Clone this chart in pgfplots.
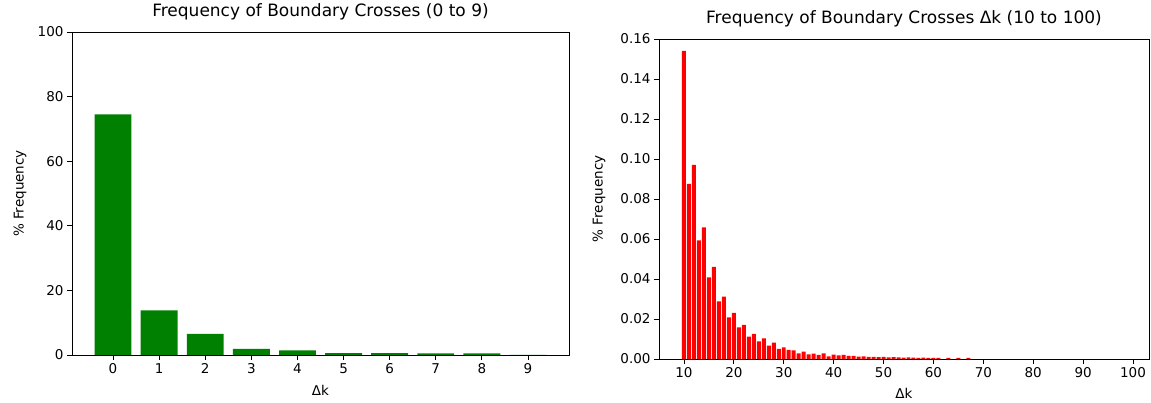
\documentclass[border=0pt]{standalone}
\usepackage{fontspec}
\setmainfont{DejaVu Sans}
\usepackage{pgfplots}
\pgfplotsset{compat=1.18}
\definecolor{mplgreen}{HTML}{008000}
\definecolor{mplred}{HTML}{FF0000}
\pgfplotsset{
  mystyle/.style={
    scale only axis,
    axis on top,
    axis line style={black, line width=0.9pt},
    tick style={black, line width=0.9pt},
    tick align=outside,
    major tick length=5pt,
    tick pos=left,
    ticklabel style={font=\fontsize{13.5}{16}\selectfont},
    /pgf/number format/assume math mode=true,
    label style={font=\fontsize{13.5}{16}\selectfont},
    title style={font=\fontsize{17}{20}\selectfont, anchor=base, at={(0.5,1)}, yshift=9pt, inner sep=0pt},
    ybar, bar width=0.8, bar shift=0pt,
    enlargelimits=false,
  }
}
\begin{document}
\begin{tikzpicture}
\begin{axis}[mystyle,
  at={(72pt,48pt)}, anchor=south west,
  width=497pt, height=323pt,
  xmin=-0.89, xmax=9.89, ymin=0, ymax=100,
  xtick={0,1,2,3,4,5,6,7,8,9},
  ytick={0,20,40,60,80,100},
  title={Frequency of Boundary Crosses (0 to 9)},
  xlabel={Δk}, ylabel={\% Frequency},
  xlabel style={at={(axis description cs:0.5,-0.11)}, anchor=center},
  ylabel style={at={(axis description cs:-0.1046,0.5)}, anchor=center},
]
\addplot[fill=mplgreen, draw=none] coordinates {
(0,74.5) (1,13.8) (2,6.5) (3,1.9) (4,1.4) (5,0.6) (6,0.55) (7,0.5) (8,0.5) (9,0.05)
};
\end{axis}
\begin{axis}[mystyle,
  at={(659pt,44pt)}, anchor=south west,
  width=490pt, height=320pt,
  xmin=5, xmax=103.2, ymin=0, ymax=0.16,
  xtick={10,20,30,40,50,60,70,80,90,100},
  ytick={0,0.02,0.04,0.06,0.08,0.10,0.12,0.14,0.16},
  yticklabel style={/pgf/number format/.cd, fixed, fixed zerofill, precision=2},
  scaled y ticks=false,
  title={Frequency of Boundary Crosses Δk (10 to 100)},
  xlabel={Δk}, ylabel={\% Frequency},
  xlabel style={at={(axis description cs:0.5,-0.107)}, anchor=center},
  ylabel style={at={(axis description cs:-0.1224,0.5)}, anchor=center},
]
\addplot[fill=mplred, draw=none] coordinates {
(10,0.154) (11,0.0875) (12,0.097) (13,0.0593) (14,0.0658) (15,0.0408) (16,0.046)
(17,0.0288) (18,0.0312) (19,0.0208) (20,0.023) (21,0.0158) (22,0.017) (23,0.0112)
(24,0.0125) (25,0.0088) (26,0.0103) (27,0.0067) (28,0.0082) (29,0.005) (30,0.0058)
(31,0.0045) (32,0.0043) (33,0.0028) (34,0.0037) (35,0.0023) (36,0.0027) (37,0.002)
(38,0.0028) (39,0.0013) (40,0.0022) (41,0.0018) (42,0.0020) (43,0.0015) (44,0.0016)
(45,0.0012) (46,0.0013) (47,0.0010) (48,0.0011) (49,0.0009) (50,0.0010) (51,0.0008)
(52,0.0009) (53,0.0008) (54,0.0007) (55,0.0008) (56,0.0007) (57,0.0006) (58,0.0007)
(59,0.0006) (60,0.0005) (61,0.0006) (63,0.0005) (65,0.0005) (67,0.0005)
};
\end{axis}
\pgfresetboundingbox
\useasboundingbox (0,0) rectangle (1151pt,403pt);
\end{tikzpicture}
\end{document}
